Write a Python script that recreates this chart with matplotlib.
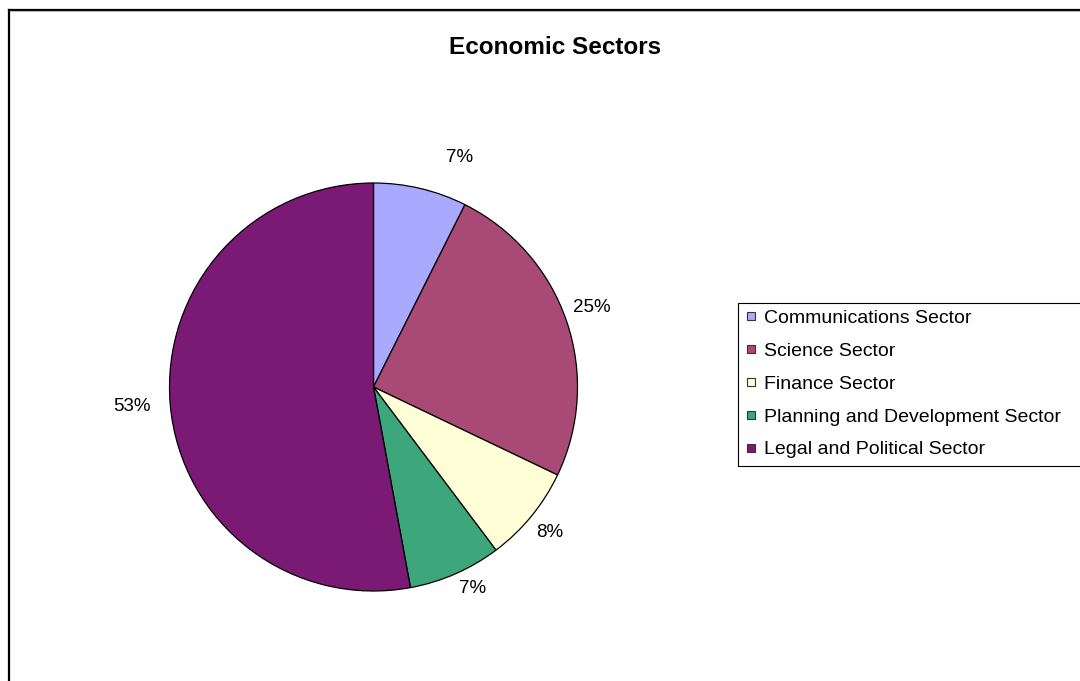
import matplotlib
matplotlib.use("Agg")
import matplotlib.pyplot as plt
from matplotlib.lines import Line2D
from matplotlib.patches import Rectangle
import numpy as np

plt.rcParams['font.family'] = ['Liberation Sans', 'DejaVu Sans']

categories = ["Communications Sector", "Science Sector", "Finance Sector",
              "Planning and Development Sector", "Legal and Political Sector"]
values = [7.4, 24.7, 7.65, 7.35, 52.9]
colors = ["#A9A9FF", "#A94A76", "#FFFED6", "#3DA67B", "#7B1A74"]
title = "Economic Sectors"

# label placement style (distance in radii, angular shift in degrees)
label_dist = [1.20, 1.14, 1.12, 1.10, 1.19]
label_shift = [-7.2, 1.0, -0.2, 2.6, -0.7]

W, H = 1080, 681
fig = plt.figure(figsize=(W / 100, H / 100), dpi=100)
fig.patch.set_facecolor("white")

cx, cy, r = 373.5, 387.0, 204.0
ax = fig.add_axes([(cx - r) / W, (H - cy - r) / H, 2 * r / W, 2 * r / H])
wedges, _ = ax.pie(values, colors=colors, startangle=90, counterclock=False,
                   radius=1.0,
                   wedgeprops=dict(edgecolor="black", linewidth=0.9))
ax.set_xlim(-1, 1)
ax.set_ylim(-1, 1)
ax.set_aspect("equal")
ax.axis("off")

total = sum(values)
for w, v, d, s in zip(wedges, values, label_dist, label_shift):
    mid = np.deg2rad((w.theta1 + w.theta2) / 2 + s)
    ax.text(d * np.cos(mid), d * np.sin(mid), f"{round(v / total * 100)}%",
            ha="center", va="center", fontsize=13.5, color="black", clip_on=False)

fig.text(555.5 / W, 1 - 47 / H, title, ha="center", va="center",
         fontsize=17.5, fontweight="bold")

handles = [Line2D([], [], marker="s", linestyle="", markersize=6.2,
                  markerfacecolor=c, markeredgecolor="#333333", markeredgewidth=0.8)
           for c in colors]
leg = fig.legend(handles, categories, loc="upper left",
                 bbox_to_anchor=(745 / W, 1 - 309 / H), frameon=False,
                 fontsize=14, handlelength=0.6, handletextpad=0.4,
                 labelspacing=0.79, borderpad=0, borderaxespad=0)

fig.add_artist(Rectangle((738 / W, (H - 466) / H), 1.0, 163 / H,
                         transform=fig.transFigure, fill=False,
                         edgecolor="black", linewidth=0.8, clip_on=False))

# chart-area border (top and left visible)
fig.add_artist(Line2D([8.5 / W, 1.0], [1 - 9.5 / H, 1 - 9.5 / H],
                      transform=fig.transFigure, color="black", linewidth=1.6))
fig.add_artist(Line2D([8.5 / W, 8.5 / W], [0.0, 1 - 9.5 / H],
                      transform=fig.transFigure, color="black", linewidth=1.6))
fig.add_artist(Line2D([10 / W, 1.0], [1 - 11 / H, 1 - 11 / H],
                      transform=fig.transFigure, color="#BBBBBB", linewidth=0.8))

fig.savefig("out.png", dpi=100)
